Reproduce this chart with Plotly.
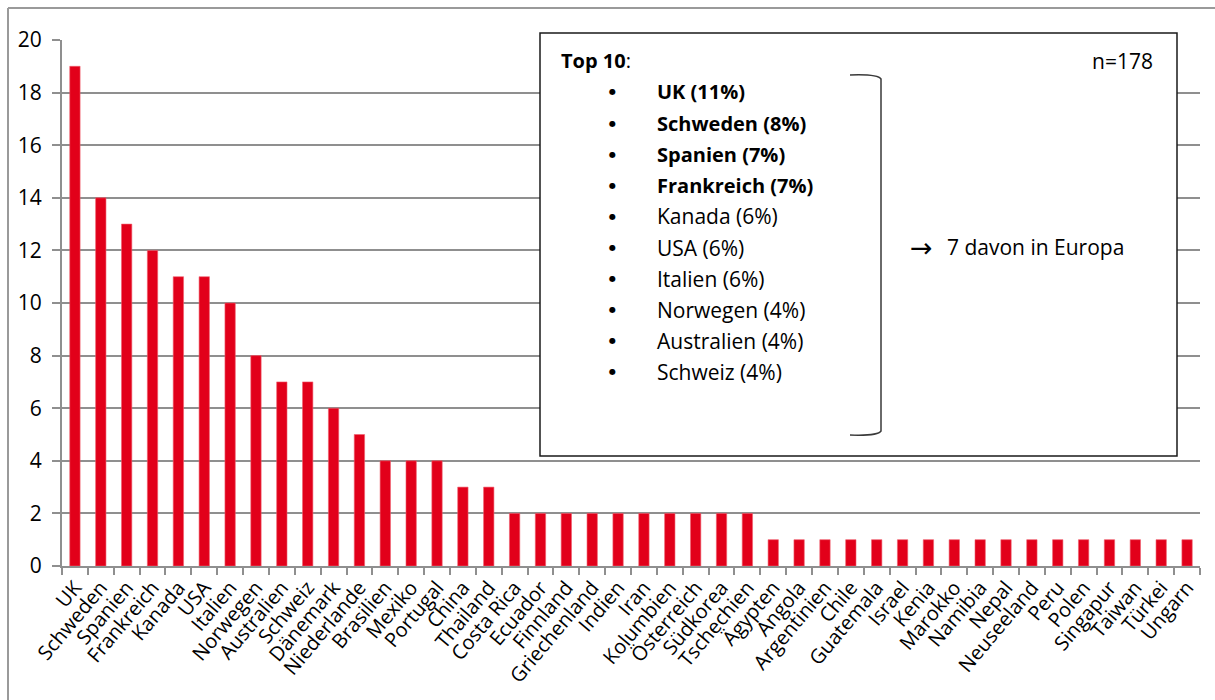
import plotly.graph_objects as go

# Number of mentions per country
countries = [
    "UK", "Schweden", "Spanien", "Frankreich", "Kanada", "USA", "Italien",
    "Norwegen", "Australien", "Schweiz", "Dänemark", "Niederlande", "Brasilien",
    "Mexiko", "Portugal", "China", "Thailand", "Costa Rica", "Ecuador",
    "Finnland", "Griechenland", "Indien", "Iran", "Kolumbien", "Österreich",
    "Südkorea", "Tschechien", "Ägypten", "Angola", "Argentinien", "Chile",
    "Guatemala", "Israel", "Kenia", "Marokko", "Namibia", "Nepal",
    "Neuseeland", "Peru", "Polen", "Singapur", "Taiwan", "Türkei", "Ungarn",
]
counts = [
    19, 14, 13, 12, 11, 11, 10, 8, 7, 7, 6, 5, 4, 4, 4, 3, 3,
    2, 2, 2, 2, 2, 2, 2, 2, 2, 2,
    1, 1, 1, 1, 1, 1, 1, 1, 1, 1, 1, 1, 1, 1, 1, 1, 1,
]
y_ticks = [0, 2, 4, 6, 8, 10, 12, 14, 16, 18, 20]
n_total = 178
top_n = 10
bold_top = 4
summary_text = "7 davon in Europa"

FONT = "Open Sans"
RED = "#e2001a"
GRID = "#8f8f8f"

W, H = 1215, 700
L, R, T, B = 62, 15, 40, 134
PW, PH = W - L - R, H - T - B


def px(x):
    return (x - L) / PW


def py(y):
    return (H - B - y) / PH


fig = go.Figure(
    go.Bar(
        x=countries,
        y=counts,
        marker=dict(color=RED, line=dict(color="#f0606f", width=0.6)),
        width=0.4,
        hoverinfo="x+y",
    )
)

shapes = []
annotations = []

# outer frame (left and top edges)
shapes.append(dict(type="line", xref="paper", yref="paper",
                   x0=px(8), x1=px(1216), y0=py(8), y1=py(8),
                   line=dict(color="#9a9a9a", width=2), layer="below"))
shapes.append(dict(type="line", xref="paper", yref="paper",
                   x0=px(8), x1=px(8), y0=py(8), y1=py(702),
                   line=dict(color="#9a9a9a", width=2), layer="below"))

# info box
shapes.append(dict(type="rect", xref="paper", yref="paper",
                   x0=px(540), x1=px(1177), y0=py(33), y1=py(456),
                   fillcolor="white", line=dict(color="#1a1a1a", width=1.5),
                   layer="above"))

# bracket around the top-10 list
path = (
    f"M {px(850)},{py(75)} Q {px(878)},{py(74)} {px(881)},{py(79)} "
    f"L {px(881)},{py(431)} Q {px(878)},{py(436)} {px(850)},{py(435)}"
)
shapes.append(dict(type="path", xref="paper", yref="paper", path=path,
                   line=dict(color="#3a3a3a", width=1.5), layer="above"))

BOX_SIZE = 20


def note(x, y, text, anchor="left", size=BOX_SIZE, family=FONT):
    annotations.append(dict(xref="paper", yref="paper", x=px(x), y=py(y),
                            xanchor=anchor, yanchor="middle", showarrow=False,
                            text=text, font=dict(family=family, size=size, color="#000")))


note(559, 61, "<b>Top 10</b>:", size=20)
note(1155, 61, f"n={n_total}", anchor="right", size=21)

for i in range(top_n):
    pct = round(counts[i] / n_total * 100)
    label = f"{countries[i]} ({pct}%)"
    if i < bold_top:
        label = f"<b>{label}</b>"
        size = 20
    else:
        size = 21
    yy = 92 + i * 31.1
    note(612, yy, "●", anchor="center", size=8, family="DejaVu Sans")
    note(655, yy, label, size=size)

note(908, 247, "→", size=27, family="DejaVu Sans")
note(945, 247, summary_text, size=21)

fig.update_layout(
    width=W, height=H,
    margin=dict(l=L, r=R, t=T, b=B),
    paper_bgcolor="white", plot_bgcolor="white",
    showlegend=False,
    font=dict(family=FONT, size=20, color="#000"),
    shapes=shapes,
    annotations=annotations,
    bargap=0.6,
)
fig.update_xaxes(
    type="category",
    tickmode="array", tickvals=countries,
    tickangle=-50,
    tickson="boundaries",
    ticks="outside", ticklen=7, tickwidth=2, tickcolor=GRID,
    showline=True, linecolor=GRID, linewidth=2,
    showgrid=False,
    tickfont=dict(family=FONT, size=20, color="#000"),
    range=[-0.5, len(countries) - 0.5],
    automargin=False,
)
fig.update_yaxes(
    range=[0, 20],
    tickvals=y_ticks,
    ticks="outside", ticklen=8, tickwidth=2, tickcolor=GRID,
    showline=True, linecolor=GRID, linewidth=2,
    showgrid=True, gridcolor=GRID, gridwidth=2,
    zeroline=False,
    tickfont=dict(family=FONT, size=21, color="#000"),
    ticklabelstandoff=6,
    automargin=False,
)

fig.write_html("out.html")
